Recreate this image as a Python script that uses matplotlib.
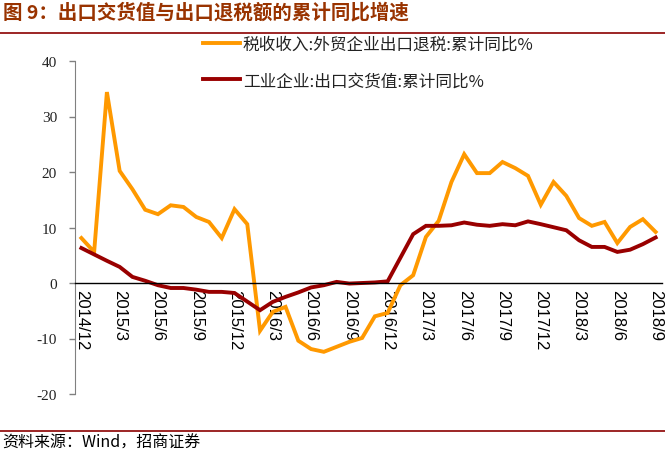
import numpy as np
import matplotlib
matplotlib.use('Agg')
import matplotlib.pyplot as plt

plt.rcParams['font.family'] = ['Noto Sans CJK SC', 'DejaVu Sans']
plt.rcParams['axes.unicode_minus'] = False

# monthly, 2014/12 .. 2018/9
months = ['2014/12', '2015/1', '2015/2', '2015/3', '2015/4', '2015/5', '2015/6',
          '2015/7', '2015/8', '2015/9', '2015/10', '2015/11', '2015/12',
          '2016/1', '2016/2', '2016/3', '2016/4', '2016/5', '2016/6', '2016/7',
          '2016/8', '2016/9', '2016/10', '2016/11', '2016/12',
          '2017/1', '2017/2', '2017/3', '2017/4', '2017/5', '2017/6', '2017/7',
          '2017/8', '2017/9', '2017/10', '2017/11', '2017/12',
          '2018/1', '2018/2', '2018/3', '2018/4', '2018/5', '2018/6', '2018/7',
          '2018/8', '2018/9']

# 税收收入:外贸企业出口退税:累计同比
tax_refund = [8.1, 5.6, 34.4, 20.2, 16.9, 13.2, 12.4, 14.0, 13.7, 11.9, 11.0, 8.1, 13.3,
              10.6, -8.6, -5.2, -4.3, -10.4, -11.9, -12.4, -11.5, -10.6, -9.9, -6.0, -5.4,
              -0.4, 1.4, 8.3, 11.2, 18.2, 23.2, 19.8, 19.8, 21.8, 20.7, 19.3, 14.1,
              18.2, 15.7, 11.7, 10.3, 11.0, 7.2, 10.1, 11.5, 9.2]

# 工业企业:出口交货值:累计同比 (no January release)
export_value = [6.3, None, 4.0, 2.9, 1.1, 0.4, -0.4, -0.9, -0.9, -1.2, -1.6, -1.6, -1.8,
                None, -4.9, -3.4, -2.5, -1.7, -0.8, -0.4, 0.2, -0.1, 0.0, 0.1, 0.3,
                None, 8.8, 10.3, 10.3, 10.4, 10.9, 10.5, 10.3, 10.6, 10.4, 11.1, 10.6,
                None, 9.5, 7.7, 6.5, 6.5, 5.6, 6.0, 7.0, 8.2]

tick_idx = list(range(0, len(months), 3))

fig = plt.figure(figsize=(6.65, 4.52), dpi=100)
ax = fig.add_axes([75 / 665, 1 - 395 / 452, 587 / 665, 333 / 452])

x = np.arange(len(months))
ax.plot(x, tax_refund, color='#FF9900', lw=2.8, solid_joinstyle='miter',
        label='税收收入:外贸企业出口退税:累计同比%')
ev_x = [i for i, v in zip(x, export_value) if v is not None]
ev_y = [v for v in export_value if v is not None]
ax.plot(ev_x, ev_y, color='#990000', lw=2.8, solid_joinstyle='miter',
        label='工业企业:出口交货值:累计同比%')

ax.set_xlim(-0.5, len(months) - 0.5)
ax.set_ylim(-20, 40)
ax.set_yticks(range(-20, 41, 10))
for t in ax.get_yticklabels():
    t.set_fontfamily('Liberation Serif')
    t.set_fontsize(11)
    t.set_color('#222222')
ax.tick_params(axis='y', direction='out', length=4, width=1, color='#808080', pad=9)

ax.spines['top'].set_visible(False)
ax.spines['right'].set_visible(False)
ax.spines['left'].set_color('#808080')
ax.spines['bottom'].set_position(('data', 0))
ax.spines['bottom'].set_color('black')
ax.spines['bottom'].set_linewidth(1.0)

ax.set_xticks(tick_idx)
ax.set_xticklabels([months[i] for i in tick_idx], rotation=270,
                   fontfamily='Liberation Sans', fontsize=12)
ax.tick_params(axis='x', length=0, pad=4)
ax.set_zorder(1)

leg = fig.legend(loc='upper left', bbox_to_anchor=(203 / 665, 1 - 37 / 452),
                 frameon=False, fontsize=12, handlelength=2.2, handletextpad=0.2,
                 labelspacing=1.15, borderpad=0, borderaxespad=0)
for t in leg.get_texts():
    t.set_color('#222222')

# title and frame lines
fig.text(3 / 665, 1 - 13 / 452, '图 9：出口交货值与出口退税额的累计同比增速',
         fontsize=14, fontweight='bold', color='#993300', va='center', ha='left')
fig.add_artist(plt.Line2D([0, 1], [1 - 34 / 452, 1 - 34 / 452], color='#8B0000', lw=1.2))
fig.add_artist(plt.Line2D([0, 1], [1 - 432 / 452, 1 - 432 / 452], color='#8B0000', lw=1.2))
fig.text(2 / 665, 1 - 443 / 452, '资料来源：Wind，招商证券', fontsize=11.5,
         color='black', va='center', ha='left')

fig.savefig('out.png', dpi=100)
